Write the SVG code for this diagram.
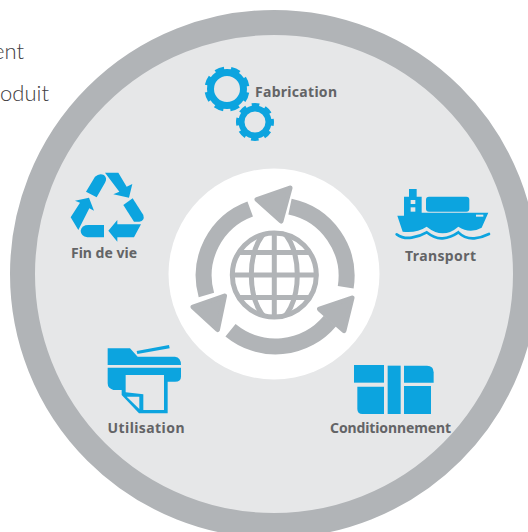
<svg xmlns="http://www.w3.org/2000/svg" width="528" height="532" viewBox="0 0 528 532">
<style>
.lbl{font-family:"Noto Sans","DejaVu Sans",sans-serif;font-weight:700;font-size:14px;fill:#636466}
.top{font-family:"Lato","Open Sans",sans-serif;font-weight:300;font-size:22px;fill:#414042;text-anchor:end}
.b{fill:#0ca4df}
.g{fill:#b1b4b7}
.cut{fill:#e6e7e8}
.arc{fill:none;stroke:#b1b4b7;stroke-width:16}
.head{fill:#b1b4b7;stroke:#b1b4b7;stroke-width:5;stroke-linejoin:round}
.gl{fill:none;stroke:#b1b4b7;stroke-width:5}
</style>
<defs><clipPath id="globeClip"><circle cx="274.3" cy="275" r="44"/></clipPath></defs>
<rect width="528" height="532" fill="#fff"/>
<g id="intro">
<text class="top" x="24" y="59">ent</text>
<text class="top" x="49" y="101">oduit</text>
</g>
<g id="disc">
<circle cx="274" cy="274" r="251.500" fill="#e6e7e8" stroke="#b1b4b7" stroke-width="25"/>
</g>
<g id="hub">
<circle cx="274" cy="274" r="105.500" fill="#fff"/>
<g id="cycle">
<path class="arc" d="M345.700 287.300A71 71 0 0 0 290 206.700"/>
<polygon class="head" points="290,188 257,199.500 281,221"/>
<path class="arc" d="M250.200 209A71 71 0 0 0 206.400 295"/>
<polygon class="head" points="224.500,296 193,307 217.500,329.500"/>
<path class="arc" d="M230.500 330.300A71 71 0 0 0 330 321"/>
<polygon class="head" points="352,298 319.500,309 344,330.500"/>
</g>
<g id="globe">
<circle class="gl" cx="274.300" cy="275" r="42"/>
<g clip-path="url(#globeClip)">
<ellipse class="gl" cx="274.300" cy="275" rx="23" ry="46"/>
<path class="gl" d="M274.300 230V320M230 275H319M235 252.500H314M235 297.500H314"/>
</g>
</g>
</g>
<g id="fabrication">
<circle cx="227" cy="89" r="16.500" fill="none" stroke="#0ca4df" stroke-width="7"/>
<circle cx="227" cy="89" r="20.500" fill="none" stroke="#0ca4df" stroke-width="4" stroke-dasharray="9 7.100" stroke-dashoffset="-3.500"/>
<circle cx="255" cy="122" r="13.500" fill="none" stroke="#0ca4df" stroke-width="6"/>
<circle cx="255" cy="122" r="17" fill="none" stroke="#0ca4df" stroke-width="4" stroke-dasharray="7.500 5.850" stroke-dashoffset="3.750"/>
<text class="lbl" x="255" y="96.500" textLength="82" lengthAdjust="spacing">Fabrication</text>
</g>
<g id="fin-de-vie">
<g transform="translate(60 160) scale(.3333)">
<path class="b" d="M78 95L105 50Q118 38 132 45Q143 55 135 68L110 112Z"/>
<path class="b" d="M135 38H175L200 80L217 72L207 113L160 103L178 95Z"/>
<path class="b" d="M190 135L218 115L250 165Q255 182 238 185H222Z"/>
<path class="b" d="M243 193L222 232H172V245L145 212L172 180V193Z"/>
<path class="b" d="M132 195V232H82Q62 228 62 212Q65 195 85 195Z"/>
<path class="b" d="M45 122L87 113L102 152L88 145L55 210L32 172L60 128Z"/>
</g>
<text class="lbl" x="71" y="258" textLength="66" lengthAdjust="spacing">Fin de vie</text>
</g>
<g id="transport">
<g transform="translate(380 175) scale(.3333)">
<path class="b" d="M87 42H110V65H125V113H325L305 158Q270 178 235 155Q212 175 188 175Q165 175 140 155Q110 175 68 170L52 122H72V65H87Z"/>
<rect class="cut" x="92" y="75" width="14" height="12"/>
<rect class="cut" x="92" y="97" width="14" height="13"/>
<rect class="b" x="138" y="65" width="130" height="45" rx="9"/>
<rect class="cut" x="288" y="119" width="22" height="6"/>
<path d="M50 178Q70 192 95 188Q120 184 140 172Q165 192 188 190Q212 188 235 172Q255 192 283 190Q305 188 327 177" fill="none" stroke="#0ca4df" stroke-width="8" stroke-linecap="round"/>
</g>
<text class="lbl" x="405" y="261" textLength="71" lengthAdjust="spacing">Transport</text>
</g>
<g id="utilisation">
<g transform="translate(95 335) scale(.3333)">
<path class="b" d="M38 40H105L128 65H240Q258 67 258 90H38Z"/>
<path class="b" d="M125 48L222 30L224 40L127 57Z"/>
<path class="b" d="M38 98H258V125Q258 140 240 140H218V235H132L80 180V165H55Q38 160 38 145Z"/>
<path class="cut" d="M92 120H207V225H145V178L92 172Z"/>
<path class="cut" d="M95 185H133V222Z"/>
</g>
<text class="lbl" x="107.500" y="433" textLength="77" lengthAdjust="spacing">Utilisation</text>
</g>
<g id="conditionnement">
<g transform="translate(325 355) scale(.3333)">
<rect class="b" x="87" y="30" width="90" height="53"/>
<path class="b" d="M97 95H177V177H112Q97 177 97 162Z"/>
<rect class="b" x="188" y="32" width="39" height="145"/>
<path class="b" d="M237 32H306Q326 32 326 52V83H237Z"/>
<rect class="b" x="237" y="93" width="81" height="84"/>
</g>
<text class="lbl" x="330" y="433" textLength="121" lengthAdjust="spacing">Conditionnement</text>
</g>
<g id="connectors"></g>
</svg>
